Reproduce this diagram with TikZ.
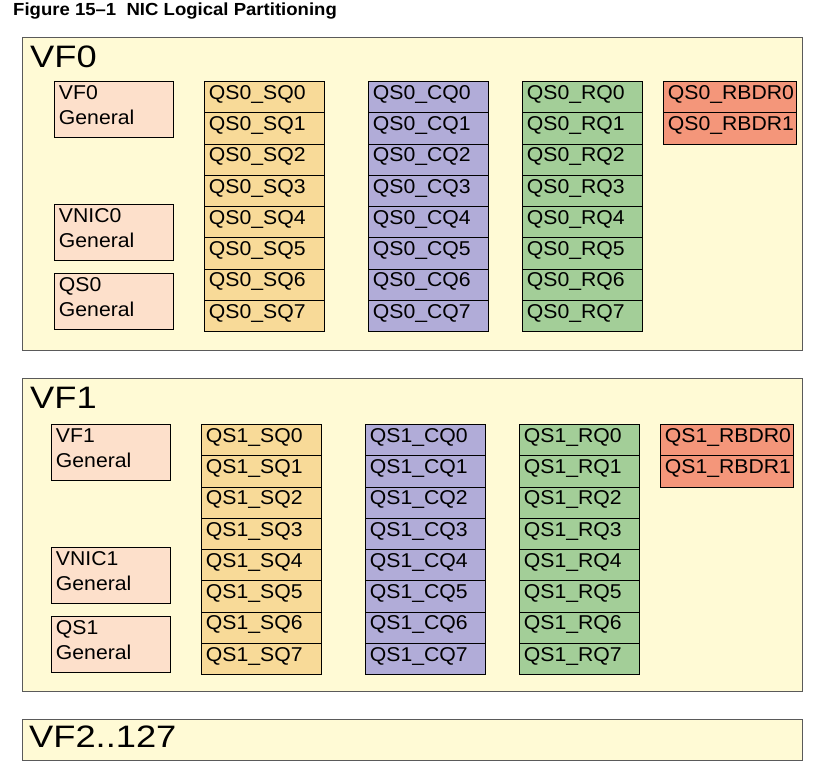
\documentclass[tikz,border=0pt]{standalone}
\usepackage{fontspec}
\setmainfont{Liberation Sans}
\newfontfamily\cellfont[FakeStretch=1.06]{Liberation Sans}
\newfontfamily\bigfont[FakeStretch=1.17]{Liberation Sans}
\newfontfamily\titlefont[FakeStretch=1.06]{Liberation Sans}

\definecolor{vfback}{HTML}{FFFAD5}
\definecolor{vfline}{HTML}{5A5A5A}
\definecolor{genfill}{HTML}{FDE0CB}
\definecolor{sqfill}{HTML}{F8DA98}
\definecolor{cqfill}{HTML}{B1ACD8}
\definecolor{rqfill}{HTML}{A3CE98}
\definecolor{rbdrfill}{HTML}{F4967A}

\begin{document}
\begin{tikzpicture}[x=1pt, y=-1pt,
	vfbox/.style={draw=vfline, fill=vfback, line width=1.3pt, anchor=north west,
		inner sep=0pt, minimum width=780pt},
	vflabel/.style={anchor=base west, inner sep=0pt, font=\bigfont\fontsize{31}{36}\selectfont},
	cell/.style={draw=black, line width=0.9pt, anchor=north west, align=left,
		inner xsep=4.5pt, inner ysep=0pt, text height=18pt,
		font=\cellfont\fontsize{20}{25}\selectfont},
	qcell/.style={cell, text width=111pt, text depth=13.25pt},
	gencell/.style={cell, fill=genfill, text width=110pt, text depth=38pt},
	rbdrcell/.style={qcell, fill=rbdrfill, text width=124pt}]

	\useasboundingbox (0,0) rectangle (816,777);

	\node[anchor=base west, inner sep=0pt, font=\titlefont\bfseries\fontsize{17.5}{20}\selectfont]
		(title) at (13,15) {Figure 15\textendash1\ \ NIC Logical Partitioning};

	% one block for each of VF0 and VF1
	\foreach \v/\dx/\dy/\top in {0/0/0/37, 1/-3/343/378} {
		\node[vfbox, minimum height=313pt] (vf\v) at (22,\top) {};
		\node[vflabel] (vf\v name) at (30,\top+30) {VF\v};

		\node[gencell] (gen\v) at (54+\dx,81+\dy) {VF\v\\General};
		\node[gencell] (vnic\v) at (54+\dx,204+\dy) {VNIC\v\\General};
		\node[gencell] (qs\v) at (54+\dx,273+\dy) {QS\v\\General};

		\foreach \i in {0,...,7} {
			\node[qcell, fill=sqfill] (sq\v-\i) at (204+\dx,{81+\dy+31.25*\i}) {QS\v\_SQ\i};
			\node[qcell, fill=cqfill] (cq\v-\i) at (368+\dx,{81+\dy+31.25*\i}) {QS\v\_CQ\i};
			\node[qcell, fill=rqfill] (rq\v-\i) at (522+\dx,{81+\dy+31.25*\i}) {QS\v\_RQ\i};
		}
		\foreach \j in {0,1}
			\node[rbdrcell] (rbdr\v-\j) at (663+\dx,{81+\dy+31.25*\j}) {QS\v\_RBDR\j};
	}

	\node[vfbox, minimum height=41pt] (vf2) at (22,719) {};
	\node[vflabel] (vf2name) at (29,747) {VF2..127};
\end{tikzpicture}
\end{document}
